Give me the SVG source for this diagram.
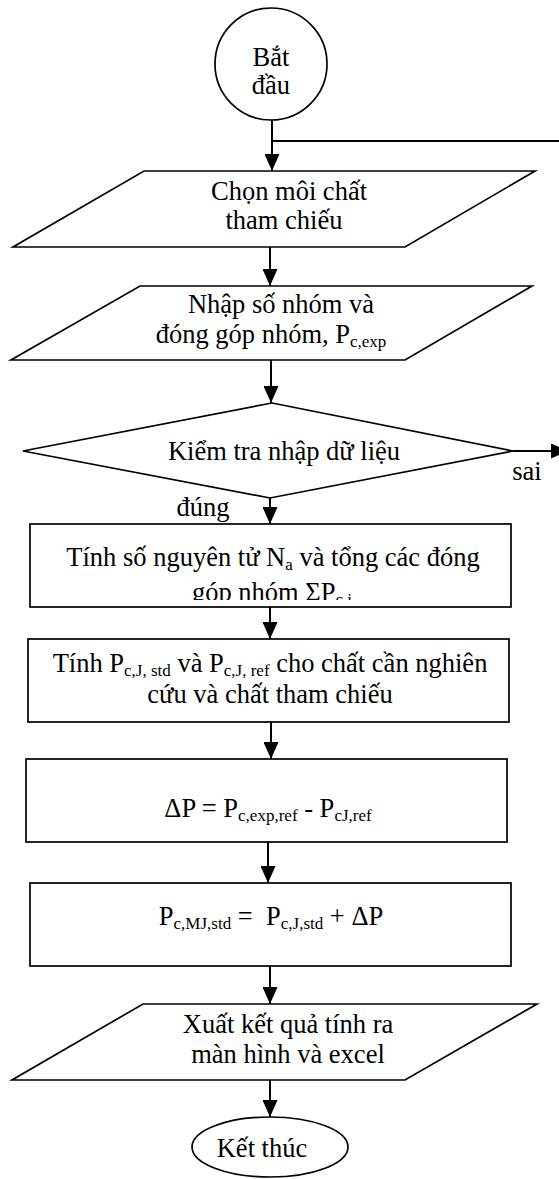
<svg xmlns="http://www.w3.org/2000/svg" width="559" height="1179" viewBox="0 0 559 1179">
<style>
.s{fill:#fff;stroke:#000;stroke-width:1.7}
.t{font-family:"Liberation Serif","Times New Roman",serif;font-size:26.5px;fill:#000;text-anchor:middle;white-space:pre}
.sub{font-size:17px}
.c{fill:none;stroke:#000;stroke-width:2}
</style>
<defs>
<marker id="ah" viewBox="0 0 17 15" refX="17" refY="7.5" markerWidth="17" markerHeight="15" markerUnits="userSpaceOnUse" orient="auto">
<path d="M0,0 L17,7.5 L0,15 Z" fill="#000"/>
</marker>
<clipPath id="clip1"><rect x="31" y="580" width="479" height="20"/></clipPath>
</defs>
<rect width="559" height="1179" fill="#fff"/>

<g id="start">
<circle class="s" cx="271" cy="64" r="56"/>
<text class="t" x="271" y="66">Bắt</text>
<text class="t" x="271" y="94">đầu</text>
</g>

<g id="chon">
<polygon class="s" points="144,171 535,171 405,247 13,247"/>
<text class="t" x="289" y="200">Chọn môi chất</text>
<text class="t" x="284" y="229">tham chiếu</text>
</g>

<g id="nhap">
<polygon class="s" points="140,286 532,286 405,360 11,360"/>
<text class="t" x="281" y="313">Nhập số nhóm và</text>
<text class="t" x="271" y="343">đóng góp nhóm, P<tspan class="sub" dy="4">c,exp</tspan></text>
</g>

<g id="kiemtra">
<polygon class="s" points="272,403 513,451 270,498 23,451"/>
<text class="t" x="284" y="460">Kiểm tra nhập dữ liệu</text>
</g>

<g id="tinh1">
<rect class="s" x="30" y="524" width="481" height="83"/>
<text class="t" x="273" y="566">Tính số nguyên tử N<tspan class="sub" dy="4">a</tspan><tspan dy="-4"> và tổng các đóng</tspan></text>
<text class="t" x="272" y="601" clip-path="url(#clip1)">góp nhóm ΣP<tspan class="sub" dy="4">c,i</tspan></text>
</g>

<g id="tinh2">
<rect class="s" x="28" y="639" width="481" height="83"/>
<text class="t" x="270" y="672">Tính P<tspan class="sub" dy="4">c,J, std</tspan><tspan dy="-4"> và P</tspan><tspan class="sub" dy="4">c,J, ref</tspan><tspan dy="-4"> cho chất cần nghiên</tspan></text>
<text class="t" x="270" y="703">cứu và chất tham chiếu</text>
</g>

<g id="deltap">
<rect class="s" x="26" y="759" width="481" height="83"/>
<text class="t" x="268" y="817">ΔP = P<tspan class="sub" dy="4">c,exp,ref</tspan><tspan dy="-4"> - P</tspan><tspan class="sub" dy="4">cJ,ref</tspan></text>
</g>

<g id="pmj">
<rect class="s" x="30" y="883" width="481" height="83"/>
<text class="t" x="271" y="925">P<tspan class="sub" dy="4">c,MJ,std</tspan><tspan dy="-4"> =  P</tspan><tspan class="sub" dy="4">c,J,std</tspan><tspan dy="-4"> + ΔP</tspan></text>
</g>

<g id="xuat">
<polygon class="s" points="143,1004 537,1004 405,1080 12,1080"/>
<text class="t" x="288" y="1033">Xuất kết quả tính ra</text>
<text class="t" x="288" y="1063">màn hình và excel</text>
</g>

<g id="end">
<ellipse class="s" cx="270" cy="1147" rx="78" ry="30"/>
<text class="t" x="262" y="1157">Kết thúc</text>
</g>

<g id="labels">
<text class="t" x="527" y="480">sai</text>
<text class="t" x="203" y="516">đúng</text>
</g>

<g id="connectors">
<line class="c" x1="272" y1="120" x2="272" y2="171" marker-end="url(#ah)"/>
<line class="c" x1="272" y1="141" x2="559" y2="141"/>
<line class="c" x1="270" y1="247" x2="270" y2="286" marker-end="url(#ah)"/>
<line class="c" x1="271" y1="360" x2="271" y2="403" marker-end="url(#ah)"/>
<line class="c" x1="513" y1="451" x2="568" y2="451" marker-end="url(#ah)"/>
<line class="c" x1="270" y1="498" x2="270" y2="524" marker-end="url(#ah)"/>
<line class="c" x1="270" y1="607" x2="270" y2="639" marker-end="url(#ah)"/>
<line class="c" x1="271" y1="722" x2="271" y2="759" marker-end="url(#ah)"/>
<line class="c" x1="268" y1="842" x2="268" y2="883" marker-end="url(#ah)"/>
<line class="c" x1="270" y1="966" x2="270" y2="1004" marker-end="url(#ah)"/>
<line class="c" x1="270" y1="1080" x2="270" y2="1117" marker-end="url(#ah)"/>
</g>
</svg>
